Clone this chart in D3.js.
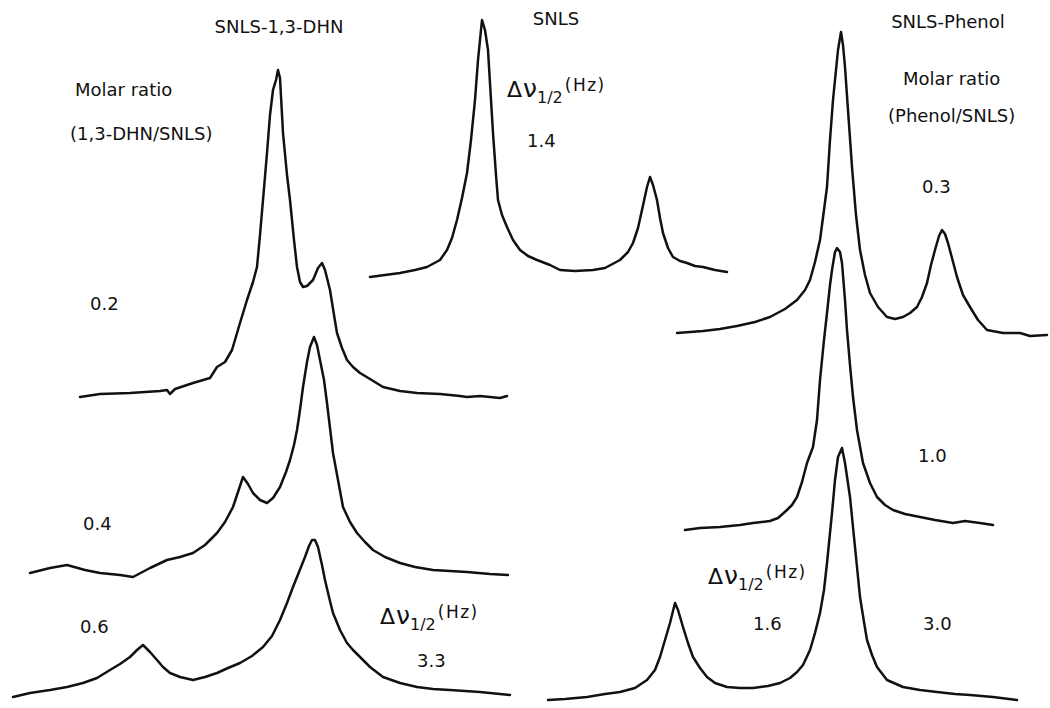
<!DOCTYPE html>
<html>
<head>
<meta charset="utf-8">
<script src="https://cdn.jsdelivr.net/npm/d3@7"></script>
<style>
  body { margin: 0; background: #fff; }
  svg { display: block; }
  text { font-family: "DejaVu Sans", sans-serif; fill: #111; }
</style>
</head>
<body>
<div id="chart"></div>
<script>
// spectra: [frequency position, signal height above the trace's own baseline]
const snls = [[370,-5],[385,-3],[400,-1],[415,2],[427,5],[440,12],[447,22],[452,34],[457,52],[462,74],[467,99],[471,132],[475,172],[478,212],[482,252],[485,242],[488,222],[491,172],[493,139],[496,97],[498,72],[502,57],[507,45],[513,32],[520,22],[528,16],[537,12],[550,7],[560,2],[575,1],[593,2],[605,4],[620,12],[628,20],[633,29],[638,44],[642,62],[647,85],[650,95],[653,87],[657,72],[660,54],[663,39],[668,24],[673,15],[680,11],[687,9],[695,6],[703,5],[715,2],[727,0]];

const dhn02 = [[80,0],[100,3],[130,4],[160,6],[167,7],[170,3],[175,8],[193,14],[210,19],[217,30],[225,35],[232,47],[240,74],[247,97],[253,115],[257,130],[260,162],[263,197],[267,244],[270,282],[273,307],[276,317],[278,327],[280,319],[283,264],[287,222],[290,197],[294,157],[297,130],[300,115],[303,110],[307,111],[313,117],[318,129],[322,134],[325,127],[330,107],[334,82],[337,64],[342,49],[347,37],[353,30],[360,24],[370,18],[383,10],[400,6],[417,4],[440,3],[460,1],[467,0],[480,1],[500,-1],[507,1]];

const dhn04 = [[30,0],[50,5],[67,8],[85,3],[100,0],[120,-2],[133,-4],[150,5],[167,13],[180,16],[193,20],[205,28],[217,40],[225,51],[233,66],[238,81],[243,96],[248,89],[253,80],[260,73],[267,70],[273,75],[280,86],[286,101],[290,113],[294,128],[297,143],[300,163],[303,186],[307,211],[310,226],[314,236],[317,228],[320,213],[324,193],[327,170],[330,145],[333,120],[338,93],[343,66],[350,51],[357,40],[365,31],[373,23],[385,16],[400,10],[415,6],[433,3],[450,2],[467,1],[490,-1],[508,-2]];

const dhn06 = [[13,-2],[30,2],[50,5],[67,8],[83,12],[97,17],[110,25],[120,31],[130,38],[137,45],[143,50],[150,43],[157,35],[163,28],[170,22],[180,18],[193,15],[205,18],[217,22],[228,27],[240,32],[252,39],[263,48],[272,59],[280,75],[287,92],[293,108],[299,123],[305,138],[309,149],[312,155],[315,155],[318,148],[322,130],[325,115],[329,98],[333,82],[340,65],[347,52],[353,45],[360,38],[370,28],[383,18],[400,12],[417,8],[433,6],[450,5],[480,3],[510,0]];

const phenol03 = [[677,1],[690,2],[703,3],[720,5],[737,8],[755,12],[770,17],[785,25],[797,34],[805,44],[810,54],[815,72],[820,94],[824,124],[827,147],[830,194],[833,234],[836,264],[838,284],[841,302],[843,289],[845,267],[848,224],[852,167],[856,119],[860,84],[865,59],[870,41],[878,27],[887,17],[895,15],[903,17],[910,21],[917,27],[922,37],[927,51],[931,69],[935,84],[939,98],[942,104],[945,100],[948,91],[952,76],[957,57],[963,39],[970,27],[978,14],[987,4],[1003,1],[1020,1],[1030,-2],[1047,-1]];

const phenol10 = [[685,-3],[700,-1],[720,0],[740,2],[753,4],[770,6],[778,9],[787,17],[792,22],[797,30],[802,45],[807,64],[813,80],[817,107],[820,147],[824,187],[827,214],[830,242],[832,257],[835,275],[837,279],[840,275],[842,264],[845,227],[847,197],[850,162],[853,130],[857,97],[863,64],[870,44],[877,30],[885,22],[893,17],[905,13],[920,10],[935,7],[953,4],[965,6],[980,4],[993,2]];

const phenol30 = [[548,-3],[565,-2],[587,0],[605,3],[620,5],[635,9],[647,17],[655,27],[660,40],[665,57],[670,74],[675,94],[678,87],[683,70],[688,54],[693,40],[700,29],[707,20],[715,14],[727,10],[740,9],[753,9],[768,11],[780,14],[790,19],[797,25],[803,32],[810,47],[815,64],[820,84],[824,107],[827,134],[832,184],[835,217],[838,240],[842,249],[845,234],[850,200],[855,150],[860,100],[864,75],[867,57],[872,42],[877,30],[887,17],[903,10],[920,7],[937,5],[955,3],[970,2],[993,0],[1017,-3]];

const titles = ["SNLS-1,3-DHN", "SNLS", "SNLS-Phenol"];
const dhnRatios = ["0.2", "0.4", "0.6"];
const phenolRatios = ["0.3", "1.0", "3.0"];
const widthValues = ["1.4", "3.3", "1.6"];

const W = 1050, H = 708;

const svg = d3.select("#chart").append("svg")
  .attr("width", W)
  .attr("height", H);

// shared horizontal frequency scale, one vertical scale per trace
const x = d3.scaleLinear().domain([0, W]).range([0, W]);

const traces = [
  { data: snls, base: 272 },
  { data: dhn02, base: 397 },
  { data: dhn04, base: 573 },
  { data: dhn06, base: 695 },
  { data: phenol03, base: 334 },
  { data: phenol10, base: 527 },
  { data: phenol30, base: 697 },
];

traces.forEach((t) => {
  const y = d3.scaleLinear().domain([0, 100]).range([t.base, t.base - 100]);
  const line = d3.line()
    .x((d) => x(d[0]))
    .y((d) => y(d[1]))
    .curve(d3.curveLinear);
  svg.append("path")
    .datum(t.data)
    .attr("d", line)
    .attr("fill", "none")
    .attr("stroke", "#111")
    .attr("stroke-width", 2.5)
    .attr("stroke-linejoin", "round")
    .attr("stroke-linecap", "round");
});

function label(txt, cx, cy, size, anchor) {
  svg.append("text")
    .attr("x", cx)
    .attr("y", cy)
    .attr("font-size", size || 18)
    .attr("text-anchor", anchor || "start")
    .text(txt);
}

// Δν1/2(Hz) label
function halfWidth(cx, cy) {
  const t = svg.append("text").attr("x", cx).attr("y", cy);
  t.append("tspan").attr("font-size", 22).text("\u0394");
  t.append("tspan").attr("font-size", 25).attr("dx", 1).text("\u03BD");
  t.append("tspan").attr("font-size", 16).attr("dy", 6).text("1/2");
  t.append("tspan").attr("font-size", 17).attr("dy", -12).attr("dx", 2)
    .attr("letter-spacing", 1.5).text("(Hz)");
}

label(titles[0], 279, 33, 18, "middle");
label(titles[1], 556, 25, 18, "middle");
label(titles[2], 948, 28, 18, "middle");

label("Molar  ratio", 75, 96);
label("(1,3-DHN/SNLS)", 70, 140);
label("Molar  ratio", 903, 85);
label("(Phenol/SNLS)", 888, 122);

label(dhnRatios[0], 90, 310);
label(dhnRatios[1], 83, 530);
label(dhnRatios[2], 80, 633);
label(phenolRatios[0], 922, 193);
label(phenolRatios[1], 918, 462);
label(phenolRatios[2], 923, 630);

halfWidth(507, 97);
halfWidth(380, 624);
halfWidth(708, 584);

label(widthValues[0], 527, 147);
label(widthValues[1], 417, 667);
label(widthValues[2], 753, 630);
</script>
</body>
</html>
